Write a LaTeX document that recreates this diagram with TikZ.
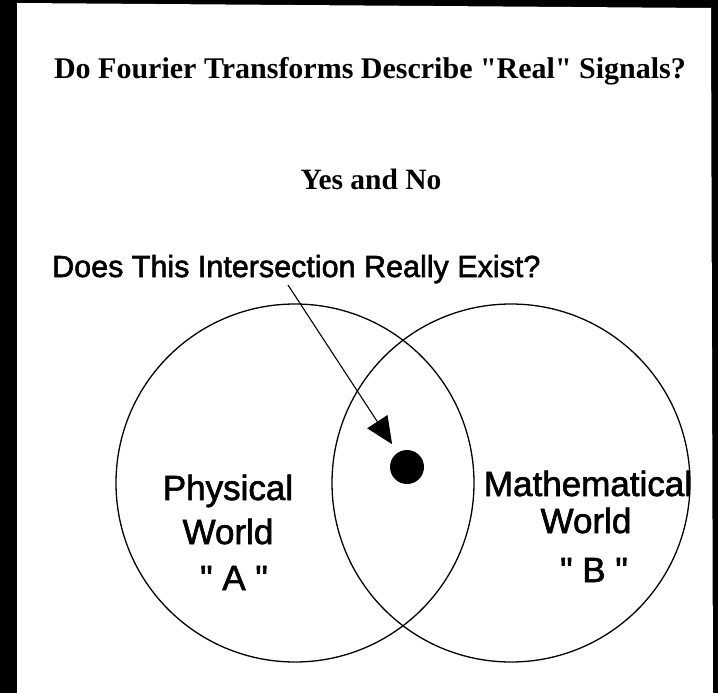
\documentclass[tikz,border=0pt]{standalone}
\usepackage{fontspec}
\newfontfamily\titlefont{Liberation Serif}
\newfontfamily\scanfont{Liberation Sans}[FakeBold=1.8]
\usetikzlibrary{arrows.meta}
\newcommand{\sq}{\char34\relax}
\begin{document}
\begin{tikzpicture}[x=1pt,y=-1pt,
  headline/.style={font=\titlefont\bfseries\fontsize{30}{36}\selectfont, inner sep=0pt, anchor=base},
  subline/.style={font=\titlefont\bfseries\fontsize{29.5}{36}\selectfont, inner sep=0pt, anchor=base},
  question/.style={font=\scanfont\fontsize{30.5}{36}\selectfont, inner sep=0pt, anchor=base west},
  worldlabel/.style={font=\scanfont\fontsize{35}{42}\selectfont, inner sep=0pt, anchor=base},
  ring/.style={circle, draw=black, line width=1.3pt, minimum size=358, inner sep=0pt},
  pointer/.style={line width=1.1pt, -{Triangle[length=27pt,width=24pt]}, shorten >=10pt}
]
\useasboundingbox (0,0) rectangle (718,693);
\fill[black] (0,0) rectangle (718,693);
\fill[white] (17,3) -- (711,8) -- (713,693) -- (17,693) -- cycle;

\node[headline] (title) at (370,78) {Do Fourier Transforms Describe \sq Real\sq\ Signals?};
\node[subline] (yesno) at (371,189) {Yes and No};
\node[question] (q) at (52,277) {Does This Intersection Really Exist?};

\node[ring] (A) at (295,483) {};
\node[ring] (B) at (511,483) {};

\node[circle, fill=black, minimum size=34, inner sep=0pt] (dot) at (407,467) {};
\coordinate (start) at (288,285);
\draw[pointer] (start) -- (dot);

\node[worldlabel] (pa1) at (228,500) {Physical};
\node[worldlabel] (pa2) at (228,544) {World};
\node[worldlabel] (pa3) at (234,590) {\sq\ A\ \sq};

\node[worldlabel] (mb1) at (588,496) {Mathematical};
\node[worldlabel] (mb2) at (586,533) {World};
\node[worldlabel] (mb3) at (594,582) {\sq\ B\ \sq};
\end{tikzpicture}
\end{document}
